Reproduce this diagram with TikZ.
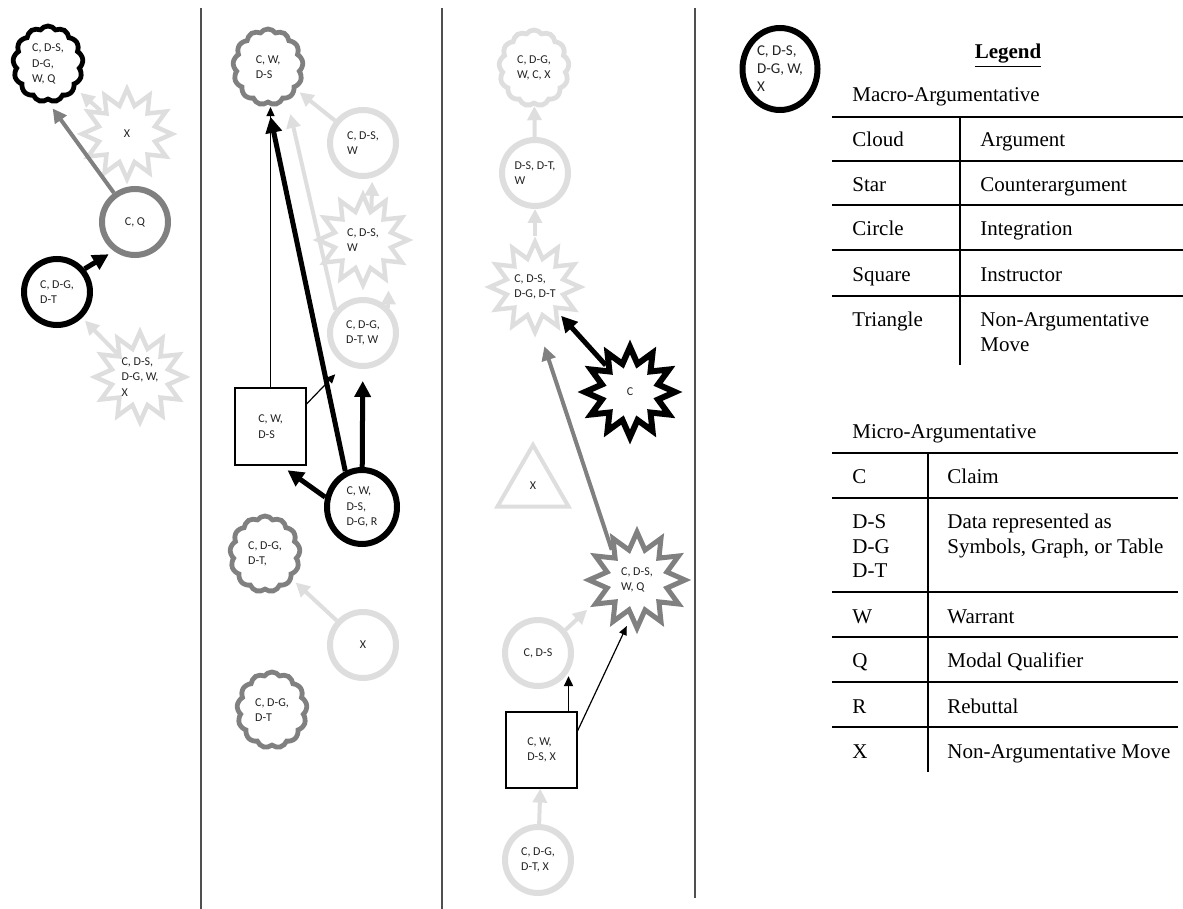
\documentclass[tikz,border=0pt]{standalone}
\usepackage{fontspec}
\setmainfont{Liberation Serif}
\newfontfamily\calibri{Carlito}
\usepackage{tikz}
\usetikzlibrary{shapes.geometric, shapes.symbols, arrows.meta, calc}
\definecolor{lightmove}{RGB}{222,222,222}
\definecolor{midmove}{RGB}{128,128,128}
\definecolor{rulecol}{RGB}{80,80,80}
\definecolor{movetxt}{RGB}{35,35,35}

\begin{document}
\begin{tikzpicture}[x=0.5pt, y=-0.5pt,
    movetext/.style={font=\calibri\fontsize{6}{7.8}\selectfont, text=movetxt, align=left, inner sep=0pt, fill=white},
    cloudnode/.style={movetext, cloud, cloud puffs=13, cloud puff arc=110, cloud ignores aspect, minimum width=35pt, minimum height=38pt, line width=2.4pt},
    starnode/.style={movetext, star, star points=12, star point ratio=1.55, minimum size=45pt, line width=2.2pt},
    circnode/.style={movetext, circle, minimum size=33pt, line width=3pt},
    boxnode/.style={movetext, rectangle, draw=black, line width=0.6pt, minimum width=35.5pt, minimum height=38.5pt},
    lgarrow/.style={draw=lightmove, line width=2pt, -{Triangle[length=7pt,width=7pt]}},
    garrow/.style={draw=midmove, line width=2pt, -{Triangle[length=7pt,width=7pt]}},
    barrow/.style={draw=black, line width=2.5pt, -{Triangle[length=8pt,width=8pt]}},
    marrow/.style={draw=black, line width=0.9pt, -{Triangle[length=5pt,width=4.5pt]}},
    tarrow/.style={draw=black, line width=0.6pt, -{Triangle[length=4.5pt,width=4pt]}},
    legtext/.style={font=\fontsize{10.5}{12}\selectfont, anchor=base west, inner sep=0pt}]
    \useasboundingbox (0,0) rectangle (1183,909);

    % separators
    \draw[rulecol, line width=1.2pt] (201,8) -- (201,909);
    \draw[rulecol, line width=1.2pt] (442,8) -- (442,909);
    \draw[rulecol, line width=1.2pt] (695,8) -- (695,898);

    % Panel 1
    \node[cloudnode, draw=black] (cloud1) at (48,64) {C, D-S,\\D-G,\\W, Q};
    \node[starnode, draw=lightmove] (x1) at (127,134) {X};
    \node[circnode, draw=midmove] (cq) at (135,222) {C, Q};
    \node[circnode, draw=black] (cdg) at (57,292) {C, D-G,\\D-T};
    \node[starnode, draw=lightmove] (x2) at (140,377) {C, D-S,\\D-G, W,\\X};

    \draw[lgarrow, shorten >=3pt] (x1) -- (cloud1);
    \draw[lgarrow, shorten >=2pt] (x2) -- (cdg);
    \draw[garrow, shorten >=4pt] (cq) -- (cloud1.south);
    \draw[barrow, shorten >=3pt] (cdg.40) -- (cq.234);

    % Panel 2
    \node[cloudnode, draw=midmove] (cloud2) at (268,67) {C, W,\\D-S};
    \node[circnode, draw=lightmove] (cdsw) at (363,143) {C, D-S,\\W};
    \node[starnode, draw=lightmove] (sdsw) at (363,240) {C, D-S,\\W};
    \node[circnode, draw=lightmove] (cdgw) at (363,333) {C, D-G,\\D-T, W};
    \node[boxnode] (isq) at (270.5,426.5) {C, W,\\D-S};
    \node[movetext, ellipse, draw=black, line width=3pt, minimum width=35pt, minimum height=37pt] (bcr) at (362,507) {C, W,\\D-S,\\D-G, R};
    \node[cloudnode, draw=midmove] (cdgt1) at (265,554) {C, D-G,\\D-T,};
    \node[circnode, draw=lightmove] (cx) at (363,645) {X};
    \node[cloudnode, draw=midmove] (cdgt2) at (272,710) {C, D-G,\\D-T};

    \draw[lgarrow, shorten >=2pt] (cdsw) -- (cloud2);
    \draw[lgarrow, shorten >=2pt] (sdsw.75) -- (cdsw.285);
    \draw[lgarrow] (cdgw.45) -- (cdgw.45 |- sdsw.south);
    \draw[lgarrow, shorten >=7pt] (cdgw.140) -- (cloud2.-60);
    \draw[lgarrow, shorten >=2pt] (cx) -- (cdgt1);
    \draw[tarrow, shorten >=1pt] (isq.north) -- (isq.north |- cloud2.south);
    \draw[tarrow, shorten >=7pt] (isq.32) -- (cdgw.240);
    \draw[barrow, shorten >=6pt] (bcr) -- (cdgw);
    \draw[barrow, shorten >=6pt] (bcr.115) -- (cloud2.south);
    \draw[barrow, shorten >=4pt] (bcr.165) -- (isq.-75);

    % Panel 3
    \node[cloudnode, draw=lightmove] (cloud4) at (534,68) {C, D-G,\\W, C, X};
    \node[circnode, draw=lightmove] (cdst) at (535,173) {D-S, D-T,\\W};
    \node[starnode, draw=lightmove] (s3) at (535,287) {C, D-S,\\D-G, D-T};
    \node[starnode, draw=black, line width=3pt] (bs) at (630,392) {C};
    \node[movetext, regular polygon, regular polygon sides=3, draw=lightmove, line width=2pt, minimum size=41pt] (tri) at (533,486) {X};
    \node[starnode, draw=midmove, line width=2.5pt, minimum size=48pt] (gs) at (637,580) {C, D-S,\\W, Q};
    \node[circnode, draw=lightmove] (cds) at (538,653) {C, D-S};
    \node[boxnode, minimum height=38pt] (isq2) at (541.5,750) {C, W,\\D-S, X};
    \node[circnode, draw=lightmove] (cdgt3) at (538,860) {C, D-G,\\D-T, X};

    \draw[lgarrow] (cdst) -- (cloud4);
    \draw[lgarrow] (s3) -- (cdst);
    \draw[lgarrow, shorten >=2pt] (cds.40) -- (gs.210);
    \draw[lgarrow] (cdgt3) -- (isq2);
    \draw[garrow, shorten >=9pt] (gs.130) -- (s3.-85);
    \draw[barrow, shorten >=2pt] (bs) -- (s3);
    \draw[marrow] (isq2.55) -- (isq2.55 |- cds.-40);
    \draw[tarrow, shorten >=4pt] (isq2.28) -- (gs.-100);

    % Legend
    \node[movetext, ellipse, draw=black, line width=3pt, minimum width=37.5pt, minimum height=41pt, font=\calibri\fontsize{7.5}{9}\selectfont] (lc) at (780,69) {C, D-S,\\D-G, W,\\X};
    \node[font=\fontsize{10.5}{12}\selectfont, anchor=base, inner sep=0pt] (legtitle) at (1008,59) {\underline{\textbf{Legend}}};

    % Macro table
    \node[legtext] (macro) at (852,102) {Macro-Argumentative};
    \foreach \y in {117,161,205,250,296}
        \draw[line width=0.8pt] (832,\y) -- (1183,\y);
    \draw[line width=0.8pt] (960,117) -- (960,365);
    \node[legtext] (mcloud) at (852,147) {Cloud};
    \node[legtext] (marg) at (980,147) {Argument};
    \node[legtext] (mstar) at (852,192) {Star};
    \node[legtext] (mcounter) at (980,192) {Counterargument};
    \node[legtext] (mcircle) at (852,236) {Circle};
    \node[legtext] (minteg) at (980,236) {Integration};
    \node[legtext] (msquare) at (852,282) {Square};
    \node[legtext] (minstr) at (980,282) {Instructor};
    \node[legtext] (mtri) at (852,327) {Triangle};
    \node[legtext] (mnonarg) at (980,327) {Non-Argumentative};
    \node[legtext] (mmove) at (980,351) {Move};

    % Micro table
    \node[legtext] (micro) at (852,438) {Micro-Argumentative};
    \foreach \y in {453,498,592,637,682,727}
        \draw[line width=0.8pt] (832,\y) -- (1178,\y);
    \draw[line width=0.8pt] (928,453) -- (928,772);
    \node[legtext] (uc) at (852,483) {C};
    \node[legtext] (uclaim) at (947,483) {Claim};
    \node[legtext] (uds) at (852,528) {D-S};
    \node[legtext] (udg) at (852,553) {D-G};
    \node[legtext] (udt) at (852,577) {D-T};
    \node[legtext] (udata) at (947,528) {Data represented as};
    \node[legtext] (usym) at (947,553) {Symbols, Graph, or Table};
    \node[legtext] (uw) at (852,623) {W};
    \node[legtext] (uwarr) at (947,623) {Warrant};
    \node[legtext] (uq) at (852,667) {Q};
    \node[legtext] (uqual) at (947,667) {Modal Qualifier};
    \node[legtext] (ur) at (852,713) {R};
    \node[legtext] (ureb) at (947,713) {Rebuttal};
    \node[legtext] (ux) at (852,758) {X};
    \node[legtext] (unon) at (947,758) {Non-Argumentative Move};
\end{tikzpicture}
\end{document}
